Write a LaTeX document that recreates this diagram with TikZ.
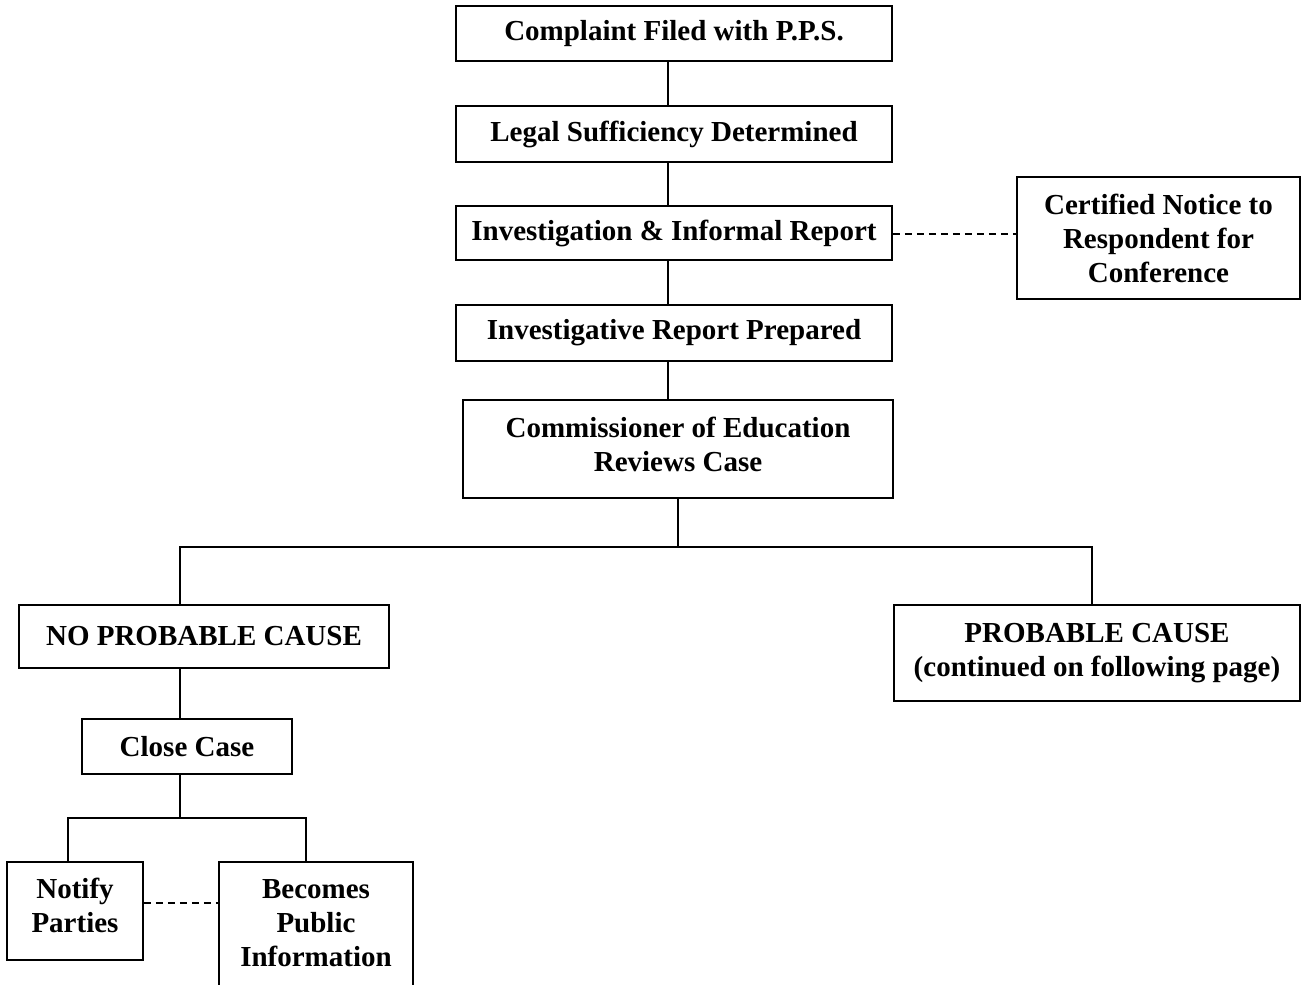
\documentclass[tikz,border=0pt]{standalone}
\usepackage{fontspec}
\setmainfont{Liberation Serif}
\begin{document}
\begin{tikzpicture}[x=1pt,y=-1pt,
  box/.style={draw,line width=1.6pt,rectangle,inner sep=0pt,align=center,
    font=\fontsize{29}{34}\selectfont\bfseries},
  txt/.style={inner sep=0pt,align=center,font=\fontsize{29}{34}\selectfont\bfseries},
  conn/.style={line width=1.6pt},
  dconn/.style={line width=1.6pt,dash pattern=on 7pt off 5pt}]
\useasboundingbox (0,0) rectangle (1301,985);
\node[box,minimum width=436,minimum height=55] (b1) at (674,33.5) {Complaint Filed with P.P.S.};
\node[box,minimum width=436,minimum height=56] (b2) at (674,134) {Legal Sufficiency Determined};
\node[box,minimum width=436,minimum height=54] (b3) at (674,233) {Investigation \& Informal Report};
\node[box,minimum width=436,minimum height=56] (b4) at (674,333) {Investigative Report Prepared};
\node[box,minimum width=430,minimum height=98] (b5) at (678,449) {};
\node[txt] (b5t) at (678,444) {Commissioner of Education\\Reviews Case};
\node[box,minimum width=283,minimum height=122] (cert) at (1158.5,238) {Certified Notice to\\Respondent for\\Conference};
\node[box,minimum width=370,minimum height=63] (npc) at (204,636.5) {NO PROBABLE CAUSE};
\node[box,minimum width=406,minimum height=96] (pc) at (1097,653) {PROBABLE CAUSE\\(continued on following page)};
\node[box,minimum width=210,minimum height=55] (close) at (187,746.5) {Close Case};
\node[box,minimum width=136,minimum height=98] (notify) at (75,911) {};
\node[txt] (notifyt) at (75,905) {Notify\\Parties};
\node[box,minimum width=194,minimum height=130] (pub) at (316,927) {};
\node[txt] (pubt) at (316,923) {Becomes\\Public\\Information};
\coordinate (bus) at (678,547);
\coordinate (bus2) at (180,818);
\draw[conn] (b1.south -| 668,0) -- (b2.north -| 668,0);
\draw[conn] (b2.south -| 668,0) -- (b3.north -| 668,0);
\draw[conn] (b3.south -| 668,0) -- (b4.north -| 668,0);
\draw[conn] (b4.south -| 668,0) -- (b5.north -| 668,0);
\draw[dconn] (b3.east |- 0,234) -- (cert.west |- 0,234);
\draw[conn] (b5.south) -- (bus);
\draw[conn] (npc.north -| 180,0) |- (bus) -| (pc.north -| 1092,0);
\draw[conn] (npc.south -| 180,0) -- (close.north -| 180,0);
\draw[conn] (close.south -| 180,0) -- (bus2);
\draw[conn] (notify.north -| 68,0) |- (bus2) -| (pub.north -| 306,0);
\draw[dconn] (notify.east |- 0,903) -- (pub.west |- 0,903);
\end{tikzpicture}
\end{document}
